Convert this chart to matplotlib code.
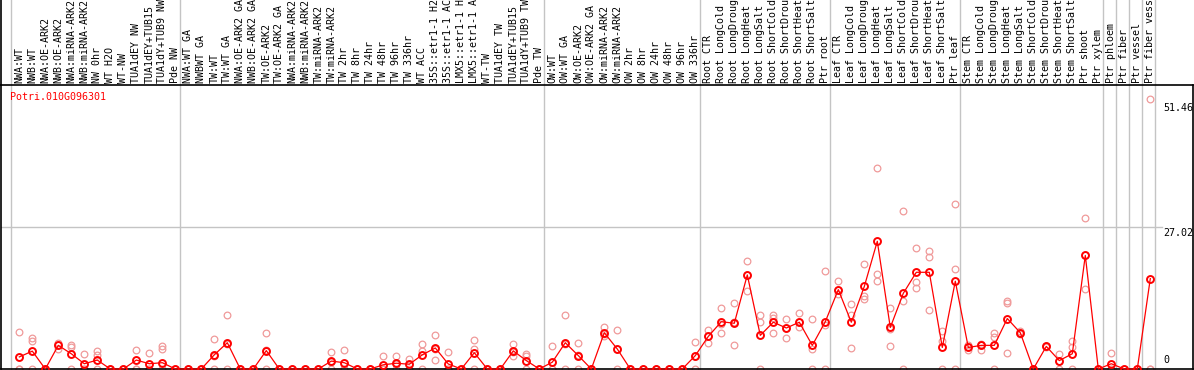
import matplotlib
matplotlib.use("Agg")
import matplotlib.pyplot as plt
import numpy as np
import matplotlib.transforms as mtrans

# ---------- data ----------
gene = "Potri.010G096301"
groups = [
    ["NWA:WT", "NWB:WT", "NWA:OE-ARK2", "NWB:OE-ARK2", "NWA:miRNA-ARK2", "NWB:miRNA-ARK2",
     "NW 0hr", "WT H2O", "WT-NW", "TUA1dEY NW", "TUA1dEY+TUB15", "TUA1dY+TUB9 NW", "Pde NW"],
    ["NWA:WT GA", "NWBWT GA", "TW:WT", "TW:WT GA", "NWA:OE-ARK2 GA", "NWB:OE-ARK2 GA",
     "TW:OE-ARK2", "TW:OE-ARK2 GA", "NWA:miRNA-ARK2", "NWB:miRNA-ARK2", "TW:miRNA-ARK2",
     "TW:miRNA-ARK2", "TW 2hr", "TW 8hr", "TW 24hr", "TW 48hr", "TW 96hr", "TW 336hr",
     "WT ACC", "35S::etr1-1 H2", "35S::etr1-1 AC", "LMX5::etr1-1 H", "LMX5::etr1-1 A",
     "WT-TW", "TUA1dEY TW", "TUA1dEY+TUB15", "TUA1dY+TUB9 TW", "Pde TW"],
    ["OW:WT", "OW:WT GA", "OW:OE-ARK2", "OW:OE-ARK2 GA", "OW:miRNA-ARK2", "OW:miRNA-ARK2",
     "OW 2hr", "OW 8hr", "OW 24hr", "OW 48hr", "OW 96hr", "OW 336hr"],
    ["Root CTR", "Root LongCold", "Root LongDroug", "Root LongHeat", "Root LongSalt",
     "Root ShortCold", "Root ShortDrou", "Root ShortHeat", "Root ShortSalt", "Ptr root"],
    ["Leaf CTR", "Leaf LongCold", "Leaf LongDroug", "Leaf LongHeat", "Leaf LongSalt",
     "Leaf ShortCold", "Leaf ShortDrou", "Leaf ShortHeat", "Leaf ShortSalt", "Ptr leaf"],
    ["Stem CTR", "Stem LongCold", "Stem LongDroug", "Stem LongHeat", "Stem LongSalt",
     "Stem ShortCold", "Stem ShortDrou", "Stem ShortHeat", "Stem ShortSalt", "Ptr shoot",
     "Ptr xylem"],
    ["Ptr phloem"], ["Ptr fiber"], ["Ptr vessel"], ["Ptr fiber vess"],
]
labels = [l for g in groups for l in g]

means = [2.3, 3.4, 0, 4.5, 2.9, 1.0, 1.7, 0, 0, 1.7, 1.0, 1.2, 0,
         0, 0, 2.7, 5.0, 0, 0, 3.5, 0, 0, 0, 0, 1.5, 1.2, 0, 0, 0.8, 1.1, 0.9, 2.7, 4.0,
         0.95, 0, 3.1, 0, 0, 3.45, 1.6, 0,
         1.3, 5.0, 2.55, 0, 6.9, 3.8, 0, 0, 0, 0, 0, 2.55,
         6.2, 9.0, 8.7, 17.9, 6.4, 8.9, 7.8, 8.9, 4.5, 9.0,
         15.1, 8.9, 15.7, 24.3, 7.9, 14.4, 18.4, 18.4, 4.1, 16.7,
         4.1, 4.5, 4.5, 9.6, 6.9, 0, 4.3, 1.6, 2.9, 21.6, 0,
         1.0, 0, 0, 17.2]

rep1 = [7.1, 5.9, 0, 5.0, 4.5, 2.9, 3.5, 0, 0, 3.7, 3.1, 4.3, 0,
        0, 0, 5.75, 10.2, 0, 0, 6.9, 0, 0, 0, 0, 3.3, 3.7, 0, 0, 2.55, 2.55, 1.9, 4.7, 6.5,
        3.3, 0, 5.6, 0, 0, 4.7, 2.8, 0,
        4.4, 10.2, 5.0, 0, 7.9, 7.5, 0, 0, 0, 0, 0, 5.2,
        7.4, 11.7, 12.6, 20.5, 10.2, 10.2, 9.45, 10.6, 9.45, 18.6,
        16.7, 12.3, 20.0, 38.2, 11.7, 30.1, 23.0, 22.5, 7.2, 31.3,
        4.5, 4.8, 6.9, 13.0, 7.2, 0, 4.4, 2.9, 5.3, 28.7, 0,
        3.1, 0, 0, 51.46]
rep2 = [0, 5.3, 0, 4.5, 4.1, 0, 2.7, 0, 0, 0, 0, 3.8, 0,
        0, 0, 2.4, 4.7, 0, 0, 3.6, 0, 0, 0, 0, 1.3, 0, 0, 0, 0, 0.9, 0.8, 3.5, 3.9,
        0, 0, 3.9, 0, 0, 3.2, 2.5, 0,
        0, 4.8, 2.6, 0, 6.6, 3.9, 0, 0, 0, 0, 0, 2.5,
        6.2, 8.5, 9.0, 17.9, 9.0, 9.7, 7.8, 8.9, 3.9, 8.4,
        15.1, 10.2, 13.8, 18.1, 7.6, 13.0, 16.6, 21.3, 5.3, 19.0,
        4.1, 4.5, 6.1, 12.6, 6.9, 0, 4.3, 1.5, 4.1, 21.6, 0,
        0, 0, 0, 0]
rep3 = [0, 0, 0, 3.8, 0, 0, 0, 0, 0, 0, 0, 0, 0,
        0, 0, 0, 0, 0, 0, 0, 0, 0, 0, 0, 0, 0, 0, 0, 0, 0, 0, 0, 1.7,
        0, 0, 0, 0, 0, 2.5, 0, 0,
        0, 0, 0, 0, 6.2, 0, 0, 0, 0, 0, 0, 0,
        5.0, 6.8, 4.5, 14.8, 0, 6.9, 5.9, 7.9, 0, 0,
        14.2, 4.0, 13.3, 16.8, 4.3, 0, 15.5, 11.2, 0, 0,
        3.6, 3.6, 0, 3.1, 6.6, 0, 4.2, 0, 0, 15.2, 0,
        0, 0, 0, 0]

# ---------- layout (pixel based) ----------
W, H, DPI = 1194, 370, 100
fig = plt.figure(figsize=(W / DPI, H / DPI), dpi=DPI)
fig.patch.set_facecolor("white")
ax_l, ax_r, ax_b, ax_t = 1, 1193, 1, 285          # px from left / bottom
ax = fig.add_axes([ax_l / W, ax_b / H, (ax_r - ax_l) / W, (ax_t - ax_b) / H])
x0, dx = 19.3, 13.0                                # px of first category, spacing
ax.set_xlim((ax_l - x0) / dx, (ax_r - x0) / dx)
vmax = max(rep1 + rep2 + rep3)
ymax = vmax * 1.05
ax.set_ylim(0, ymax)
ax.set_xticks([]); ax.set_yticks([])
for s in ["left", "right", "bottom", "top"]:
    ax.spines[s].set_color("black"); ax.spines[s].set_linewidth(1.2)

MONO = "DejaVu Sans Mono"
FS = 7.2
grid_c = "#c4c4c4"
top_ax = (H - ax_b) / (ax_t - ax_b)

# group separators run through the label band as well
bounds = np.cumsum([0] + [len(g) for g in groups])
for b in bounds:
    ax.axvline(b - 0.64, ymin=0, ymax=top_ax, color=grid_c, lw=1.0, clip_on=False, zorder=0)
mid = ymax / 2
ax.axhline(mid, xmin=0, xmax=(1162 - ax_l) / (ax_r - ax_l), color=grid_c, lw=1.0, zorder=0)
# left border up to the top of the figure
ax.plot([0, 0], [1, top_ax], transform=ax.transAxes, color="black", lw=1.2, clip_on=False)

x = np.arange(len(labels))
trans = mtrans.blended_transform_factory(ax.transData, ax.transAxes)
for i, lab in enumerate(labels):
    ax.text(i, 1 + 2 / (ax_t - ax_b), lab, rotation=90, ha="center", va="bottom",
            family=MONO, fontsize=FS, transform=trans, clip_on=False)

pink = "#f09a9a"
for rep in (rep1, rep2, rep3):
    ax.plot(x, rep, ls="none", marker="o", ms=4.8, mfc="none", mec=pink, mew=0.9,
            clip_on=False, zorder=2)
ax.plot(x, means, color="red", lw=0.9, marker="o", ms=5.0, mfc="none", mec="red", mew=1.4,
        clip_on=False, zorder=3)

ax.annotate(gene, xy=(0, 1), xycoords="axes fraction", xytext=(9, -12),
            textcoords="offset pixels", ha="left", va="center", color="red",
            family=MONO, fontsize=FS)

lx = (1163 - x0) / dx
ax.annotate(f"{vmax:.2f}", xy=(lx, vmax), xytext=(0, -4), textcoords="offset pixels",
            ha="left", va="top", family=MONO, fontsize=FS, annotation_clip=False)
ax.annotate(f"{mid:.2f}", xy=(lx, mid), xytext=(0, -1), textcoords="offset pixels",
            ha="left", va="top", family=MONO, fontsize=FS, annotation_clip=False)
ax.annotate("0", xy=(lx, 0), xytext=(0, 4), textcoords="offset pixels",
            ha="left", va="bottom", family=MONO, fontsize=FS, annotation_clip=False)

fig.savefig("out.png", dpi=DPI)
